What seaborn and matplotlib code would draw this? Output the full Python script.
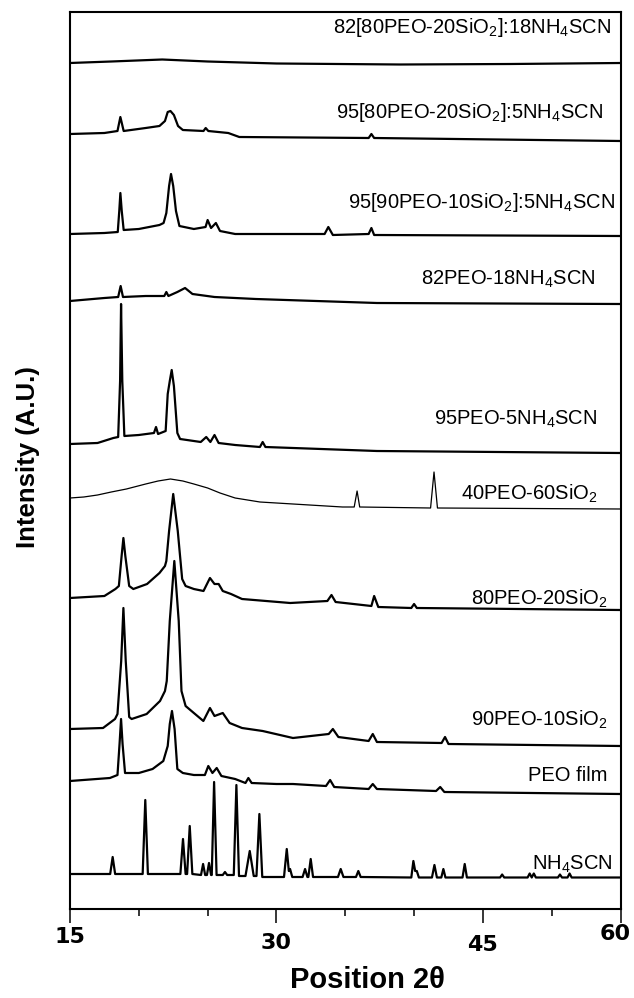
import matplotlib
matplotlib.use("Agg")
import matplotlib.pyplot as plt
from matplotlib.transforms import ScaledTranslation
import seaborn as sns
import pandas as pd

# ---------------- data (2theta on drawn axis scale, stacked intensity A.U.) -------------
tt_8220 = [15.0, 18.0, 21.7, 25.0, 30.0, 39.0, 47.0, 55.0]
i_8220 = [846, 847.5, 849.5, 847.5, 845.5, 844.5, 845, 846]

tt_9520 = [15.0, 17.5, 18.45, 18.66, 18.9, 20.5, 21.5, 21.9, 22.1, 22.3, 22.55, 22.85,
           23.2, 24.7, 24.86, 25.05, 26.5, 27.3, 36.7, 36.9, 37.1, 55.0]
i_9520 = [775, 776, 778, 792, 778, 781, 783, 788, 797, 798, 794, 783,
          779, 778, 781, 778, 776, 772, 771, 775, 771, 768]

tt_9510 = [15.0, 17.5, 18.47, 18.58, 18.66, 18.76, 18.9, 20.0, 21.5, 21.8, 22.0, 22.2,
           22.34, 22.5, 22.7, 22.95, 24.0, 24.85, 25.0, 25.25, 25.6, 25.9, 27.0, 33.5,
           33.77, 34.1, 36.7, 36.9, 37.1, 55.0]
i_9510 = [675, 676, 677, 698, 716, 698, 679, 680, 684, 686, 696, 723,
          735, 723, 698, 683, 680, 682, 689, 681, 686, 678, 675, 675,
          682, 674, 675, 681, 674, 673]

tt_82 = [15.0, 17.5, 18.5, 18.68, 18.85, 20.5, 21.85, 22.0, 22.15, 22.8, 23.36, 23.9,
         25.5, 28.5, 37.3, 55.0]
i_82 = [608, 611, 612, 623, 612, 613, 613, 617, 613, 617, 621, 615,
        612, 610, 606, 605]

tt_95 = [15.0, 17.0, 18.15, 18.5, 18.64, 18.71, 18.8, 18.95, 20.0, 21.1, 21.25, 21.4,
         21.95, 22.1, 22.25, 22.39, 22.55, 22.8, 23.0, 24.5, 24.9, 25.2, 25.5, 25.8,
         27.0, 28.8, 29.0, 29.2, 37.3, 55.0]
i_95 = [465, 466, 471, 472, 528, 605, 528, 473, 474, 476, 482, 475,
        478, 515, 528, 539, 523, 476, 470, 467, 472, 467, 474, 466,
        464, 462, 467, 462, 458, 456]

tt_40 = [15.0, 16.0, 17.0, 18.0, 19.1, 20.5, 21.4, 22.3, 23.2, 24.0, 25.0, 25.9, 27.0,
         28.8, 31.2, 34.8, 35.65, 35.86, 36.05, 41.2, 41.45, 41.7, 55.0]
i_40 = [411, 412, 414, 417, 420, 425, 428, 430, 428, 425, 421, 416, 411,
        407, 405, 402, 402, 418, 402, 401, 437, 401, 400]

tt_80 = [15.0, 17.5, 18.3, 18.55, 18.75, 18.88, 19.02, 19.3, 19.6, 20.6, 21.5, 21.9,
         22.0, 22.2, 22.5, 22.83, 23.15, 23.4, 24.0, 24.7, 25.17, 25.5, 25.8, 26.1,
         26.7, 27.5, 31.0, 33.7, 34.0, 34.3, 36.9, 37.1, 37.4, 39.8, 40.0, 40.2, 55.0]
i_80 = [311, 313, 320, 323, 353, 371, 353, 323, 320, 325, 336, 343,
        348, 378, 415, 378, 330, 323, 320, 318, 331, 325, 325, 318,
        315, 310, 306, 308, 314, 307, 303, 313, 302, 301, 305, 301, 299]

tt_90 = [15.0, 17.4, 18.27, 18.45, 18.72, 18.88, 19.05, 19.3, 19.48, 20.57, 21.54, 21.9,
         22.03, 22.25, 22.58, 22.9, 23.1, 23.4, 24.0, 24.69, 25.17, 25.5, 26.1, 26.6,
         27.5, 29.0, 31.2, 33.8, 34.1, 34.5, 36.7, 37.0, 37.3, 42.0, 42.25, 42.5, 55.0]
i_90 = [180, 181, 190, 195, 248, 301, 248, 192, 190, 195, 208, 218,
        228, 288, 348, 288, 218, 203, 196, 188, 201, 193, 196, 186,
        181, 178, 171, 175, 180, 172, 168, 175, 167, 166, 172, 165, 163]

tt_peo = [15.0, 17.9, 18.45, 18.6, 18.71, 18.82, 19.0, 20.0, 21.0, 21.78, 22.1, 22.25,
          22.41, 22.6, 22.8, 23.2, 24.0, 24.8, 25.05, 25.35, 25.66, 26.0, 27.0, 27.75,
          27.96, 28.2, 30.0, 31.2, 33.6, 33.9, 34.2, 36.7, 37.0, 37.3, 41.6, 41.9, 42.2, 55.0]
i_peo = [128, 131, 134, 165, 190, 165, 136, 136, 140, 148, 163, 185,
         198, 180, 140, 136, 134, 134, 143, 136, 141, 133, 130, 126,
         131, 126, 125, 125, 123, 129, 122, 120, 125, 120, 118, 122, 117, 115]

tt_nh4 = [15.0, 17.0, 17.92, 18.10, 18.28, 20.28, 20.47, 20.66, 23.02, 23.21, 23.40, 23.51,
          23.70, 23.89, 24.52, 24.67, 24.82, 24.95, 25.10, 25.25, 25.30, 25.47, 25.65, 26.10,
          26.26, 26.42, 26.90, 27.09, 27.28, 27.75, 28.06, 28.35, 28.55, 28.76, 28.97, 30.55,
          30.75, 30.90, 30.99, 31.15, 31.90, 32.08, 32.25, 32.32, 32.49, 32.66, 34.47, 34.67,
          34.87, 35.78, 35.95, 36.12, 39.80, 39.95, 40.08, 40.20, 40.35, 41.30, 41.48, 41.66,
          41.98, 42.13, 42.28, 43.52, 43.68, 43.84, 46.25, 46.40, 46.55, 48.25, 48.40, 48.55,
          48.70, 48.85, 50.45, 50.60, 50.75, 51.15, 51.30, 51.45, 55.0]
i_nh4 = [35, 35, 35, 52, 35, 35, 109, 35, 35, 70, 35, 35,
         83, 35, 34, 45, 34, 34, 46, 34, 34, 127, 34, 34,
         37, 34, 34, 124, 33, 33, 58, 33, 33, 95, 32, 32,
         60, 38, 40, 32, 32, 40, 32, 32, 50, 32, 32, 40,
         32, 32, 38, 32, 31.5, 48, 38, 38, 31.5, 31.5, 44, 31.5,
         31.5, 40, 31.5, 31.5, 45, 31.5, 31.5, 34.5, 31.5, 31.5, 35.5, 31.5,
         35.5, 31.5, 31.5, 34.5, 31.5, 31.5, 35.5, 31.5, 31.5]

samples = ["82[80PEO-20SiO$_2$]:18NH$_4$SCN", "95[80PEO-20SiO$_2$]:5NH$_4$SCN",
           "95[90PEO-10SiO$_2$]:5NH$_4$SCN", "82PEO-18NH$_4$SCN", "95PEO-5NH$_4$SCN",
           "40PEO-60SiO$_2$", "80PEO-20SiO$_2$", "90PEO-10SiO$_2$", "PEO film", "NH$_4$SCN"]
series_x = [tt_8220, tt_9520, tt_9510, tt_82, tt_95, tt_40, tt_80, tt_90, tt_peo, tt_nh4]
series_y = [i_8220, i_9520, i_9510, i_82, i_95, i_40, i_80, i_90, i_peo, i_nh4]
label_x = [54.32, 53.74, 54.6, 53.15, 53.3, 53.37, 54.1, 54.1, 54.03, 54.39]
label_y = [876, 791, 701, 624, 484, 409, 304, 183, 128, 39]

major_ticks = [15, 30, 45, 55]
major_labels = ["15", "30", "45", "60"]
minor_ticks = [20, 25, 35, 40, 50]

# ---------------- style ----------------
sns.set_theme(style="white")
plt.rcParams["font.family"] = ["Liberation Sans", "DejaVu Sans"]
plt.rcParams["mathtext.fontset"] = "custom"
plt.rcParams["mathtext.rm"] = "Liberation Sans"
plt.rcParams["mathtext.it"] = "Liberation Sans:italic"
plt.rcParams["mathtext.bf"] = "Liberation Sans:bold"
plt.rcParams["mathtext.default"] = "rm"

fig = plt.figure(figsize=(6.34, 9.98), dpi=100)
ax = fig.add_axes([70 / 634, 1 - 909 / 998, 550.5 / 634, 897 / 998])

rows = []
for name, xs, ys in zip(samples, series_x, series_y):
    for a, b in zip(xs, ys):
        rows.append((name, a, b))
df = pd.DataFrame(rows, columns=["sample", "two_theta", "intensity"])

for name in samples:
    sub = df[df["sample"] == name]
    thin = name.startswith("40PEO")
    sns.lineplot(data=sub, x="two_theta", y="intensity", ax=ax, color="black",
                 lw=0.9 if thin else 1.6, estimator=None, sort=False, legend=False)

for name, lx, ly in zip(samples, label_x, label_y):
    ax.text(lx, ly, name, ha="right", va="baseline", fontsize=14.5, color="black")

ax.set_xlim(15, 55)
ax.set_ylim(0, 897)
ax.set_yticks([])
ax.set_xticks(major_ticks)
ax.set_xticklabels(major_labels)
ax.set_xticks(minor_ticks, minor=True)
for sp in ax.spines.values():
    sp.set_visible(True)
    sp.set_color("black")
    sp.set_linewidth(1.5)
ax.tick_params(axis="x", which="major", bottom=True, direction="out", length=10,
               width=1.1, color="black", pad=3, labelsize=16, labelcolor="black")
ax.tick_params(axis="x", which="minor", bottom=True, direction="out", length=5,
               width=1.1, color="black")
for lab in ax.get_xticklabels():
    lab.set_fontfamily("DejaVu Sans")
    lab.set_fontweight("bold")

ax.set_xlabel("Position 2θ", fontsize=21, fontweight="bold", color="black")
ax.xaxis.set_label_coords((367 - 70) / 550.5, (908 - 965) / 897)
ax.set_ylabel("Intensity (A.U.)", fontsize=18.5, fontweight="bold", color="black", va="center")
ax.yaxis.set_label_coords((28 - 70) / 550.5, (908 - 456) / 897)
ax.grid(False)

# staggered tick label positions as in the reference (last one kept inside the figure)
offsets_pt = [(0, 0), (0, -4.3), (0, -5.8), (-4.0, 2.2)]
for lab, (dx, dy) in zip(ax.get_xticklabels(), offsets_pt):
    lab.set_transform(lab.get_transform() + ScaledTranslation(dx / 72, dy / 72, fig.dpi_scale_trans))

fig.savefig("out.png", dpi=100)
